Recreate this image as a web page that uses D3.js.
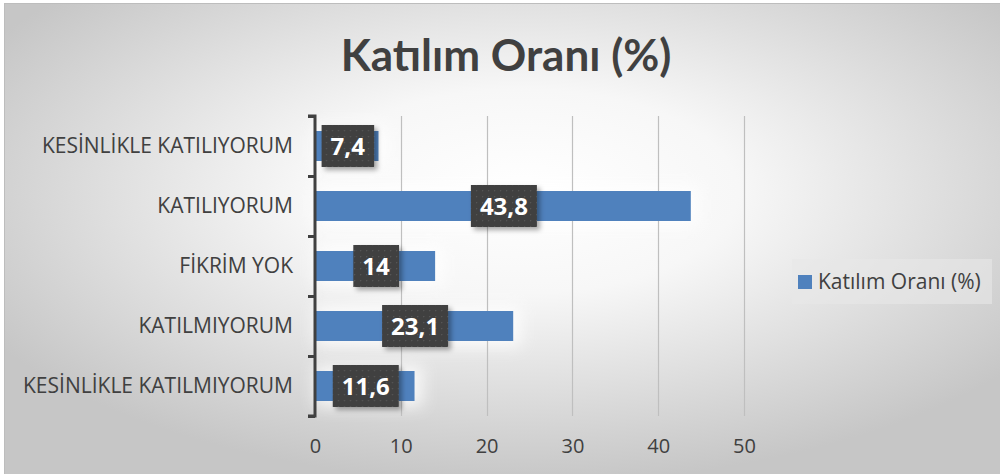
<!DOCTYPE html>
<html><head><meta charset="utf-8">
<script src="https://cdn.jsdelivr.net/npm/d3@7"></script>
<style>html,body{margin:0;padding:0;background:#fff;}svg{display:block;}</style>
</head><body>
<svg id="chart" width="1000" height="474"></svg>
<script>
const categories = ["KESİNLİKLE KATILIYORUM","KATILIYORUM","FİKRİM YOK","KATILMIYORUM","KESİNLİKLE KATILMIYORUM"];
const values = [7.4, 43.8, 14, 23.1, 11.6];
const valueLabels = ["7,4","43,8","14","23,1","11,6"];
const xTicks = [0,10,20,30,40,50];
const title = "Katılım Oranı (%)";
const seriesName = "Katılım Oranı (%)";

const svg = d3.select("#chart");
const font = "'Open Sans', sans-serif";
const defs = svg.append("defs");
const rg = defs.append("radialGradient").attr("id","bg").attr("cx","52%").attr("cy","40%").attr("r","62%");
rg.append("stop").attr("offset","0%").attr("stop-color","#ffffff");
rg.append("stop").attr("offset","35%").attr("stop-color","#f7f7f7");
rg.append("stop").attr("offset","100%").attr("stop-color","#c6c6c6");
const pat = defs.append("pattern").attr("id","dots").attr("width",6).attr("height",6).attr("patternUnits","userSpaceOnUse");
pat.append("rect").attr("width",6).attr("height",6).attr("fill","#3f3f3f");
pat.append("rect").attr("x",2).attr("y",2).attr("width",1.3).attr("height",1.3).attr("fill","#575757");
const f = defs.append("filter").attr("id","shadow").attr("x","-20%").attr("y","-20%").attr("width","150%").attr("height","160%");
f.append("feDropShadow").attr("dx",3).attr("dy",3).attr("stdDeviation",2.5).attr("flood-color","#000").attr("flood-opacity",0.35);
const glow = defs.append("filter").attr("id","glow").attr("x","-30%").attr("y","-80%").attr("width","160%").attr("height","260%");
glow.append("feGaussianBlur").attr("stdDeviation",8);

svg.append("rect").attr("x",4).attr("y",3).attr("width",996).attr("height",471).attr("fill","url(#bg)");
svg.append("line").attr("x1",4).attr("x2",1000).attr("y1",3.5).attr("y2",3.5).attr("stroke","#bdbdbd");
svg.append("line").attr("x1",4.5).attr("x2",4.5).attr("y1",3).attr("y2",474).attr("stroke","#bdbdbd");

const m = {left:315, top:116, bottom:416};
const x = d3.scaleLinear().domain([0,50]).range([315,744]);
const y = d3.scaleBand().domain(categories).range([m.top,m.bottom]).paddingInner(0.5).paddingOuter(0.25);

// bar glow
svg.append("g").selectAll("rect").data(values).join("rect")
  .attr("x",x(0)).attr("y",(d,i)=>y(categories[i])-6)
  .attr("width",d=>x(d)-x(0)+8).attr("height",y.bandwidth()+12)
  .attr("fill","#ffffff").attr("opacity",0.8).attr("filter","url(#glow)");

// gridlines
svg.append("g").selectAll("line").data(xTicks.slice(1)).join("line")
  .attr("x1",d=>Math.round(x(d))+0.5).attr("x2",d=>Math.round(x(d))+0.5)
  .attr("y1",m.top).attr("y2",m.bottom).attr("stroke","#bfbfbf").attr("stroke-width",1.2);

// x axis labels
const xa = svg.append("g").attr("transform",`translate(0,${m.bottom})`).call(d3.axisBottom(x).tickValues(xTicks).tickSize(0).tickPadding(23));
xa.select(".domain").remove();
xa.selectAll("text").attr("font-family",font).attr("font-size",20).attr("fill","#404040");

// bars
svg.append("g").selectAll("rect").data(values).join("rect")
  .attr("x",x(0)+1).attr("y",(d,i)=>y(categories[i]))
  .attr("width",d=>x(d)-x(0)-1).attr("height",y.bandwidth())
  .attr("fill","#4f81bd");

// y axis
const ya = svg.append("g").attr("transform",`translate(${m.left},0)`)
  .call(d3.axisLeft(d3.scaleLinear().domain([0,5]).range([m.top,m.bottom])).ticks(5).tickSize(7).tickFormat(""));
ya.select(".domain").attr("stroke","#404040").attr("stroke-width",3).attr("d",`M-7,${m.top}H0V${m.bottom}H-7`);
ya.selectAll(".tick line").attr("stroke","#404040").attr("stroke-width",3);

// category labels
svg.append("g").selectAll("text").data(categories).join("text")
  .attr("x",293).attr("y",d=>y(d)+y.bandwidth()/2).attr("dy","0.35em")
  .attr("text-anchor","end").attr("font-family",font).attr("font-size",21).attr("fill","#404040").text(d=>d);

// data labels
const lg = svg.append("g").selectAll("g").data(values).join("g")
  .attr("transform",(d,i)=>`translate(${(x(0)+x(d))/2+1},${y(categories[i])+y.bandwidth()/2})`);
lg.append("text").attr("class","lbl").attr("text-anchor","middle").attr("dy","0.36em")
  .attr("font-family",font).attr("font-weight","bold").attr("font-size",24).attr("fill","#fff")
  .text((d,i)=>valueLabels[i]);
lg.each(function(){
  const g = d3.select(this); const t = g.select("text"); const b = t.node().getBBox();
  g.insert("rect","text").attr("x",b.x-9).attr("y",-21).attr("width",b.width+18).attr("height",42)
    .attr("fill","url(#dots)").attr("filter","url(#shadow)");
});

// title
svg.append("text").attr("x",506).attr("y",71).attr("text-anchor","middle")
  .attr("font-family","Lato, sans-serif").attr("font-weight","bold").attr("font-size",44).attr("fill","#404040").text(title);

// legend
svg.append("rect").attr("x",792).attr("y",259).attr("width",200).attr("height",45).attr("fill","#e8e8e8").attr("opacity",0.6);
svg.append("rect").attr("x",798).attr("y",275).attr("width",14).attr("height",14).attr("fill","#4f81bd");
svg.append("text").attr("x",818).attr("y",282).attr("dy","0.35em").attr("font-family",font).attr("font-size",21).attr("fill","#404040").text(seriesName);
</script>
</body></html>
